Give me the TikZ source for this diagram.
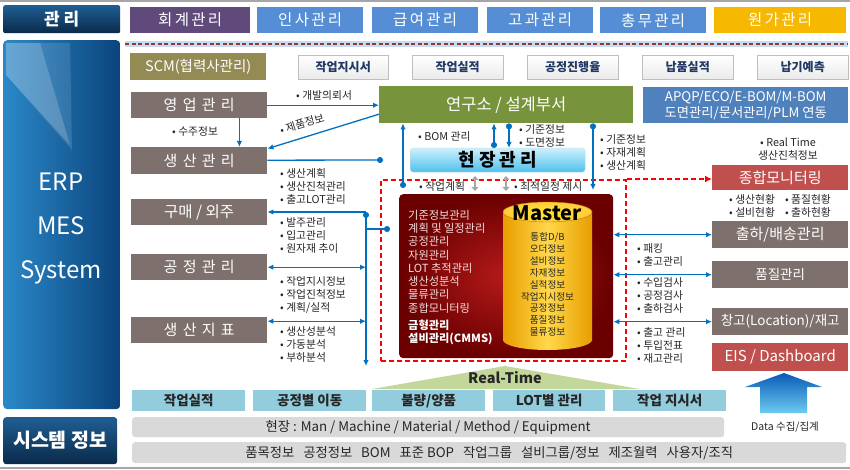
\documentclass[tikz,border=0pt]{standalone}
\usepackage{fontspec}
\setmainfont{Noto Sans CJK KR}
\newfontfamily\krsp[LetterSpace=35]{Noto Sans CJK KR}
\newfontfamily\krsq[LetterSpace=22]{Noto Sans CJK KR}
\newfontfamily\krst[LetterSpace=15]{Noto Sans CJK KR}
\usetikzlibrary{arrows.meta,calc}
\definecolor{navyA}{HTML}{1F5E93}
\definecolor{navyB}{HTML}{0A2A4A}
\definecolor{purp}{HTML}{604A7B}
\definecolor{bluebx}{HTML}{558ED5}
\definecolor{goldbx}{HTML}{F6B800}
\definecolor{olive}{HTML}{948A54}
\definecolor{topbtxt}{HTML}{1F3864}
\definecolor{brn}{HTML}{7E706D}
\definecolor{grn}{HTML}{77933C}
\definecolor{apqp}{HTML}{4F81BD}
\definecolor{redbx}{HTML}{C0504D}
\definecolor{arrb}{HTML}{0070C0}
\definecolor{lblue}{HTML}{93CDDD}
\definecolor{lgrey}{HTML}{D9D9D9}
\definecolor{rtg}{HTML}{C4D79B}
\definecolor{cylA}{HTML}{E89E00}
\definecolor{cylB}{HTML}{FFD84A}
\definecolor{drA}{HTML}{B51A1A}
\definecolor{drB}{HTML}{6A0000}
\definecolor{erpA}{HTML}{2B88C8}
\definecolor{erpB}{HTML}{0B447C}
\definecolor{cyA}{HTML}{CDEFFB}
\definecolor{cyB}{HTML}{4EC0EC}
\definecolor{sepglow}{HTML}{C5DCF2}
\definecolor{sepred}{HTML}{953735}
\definecolor{ltxt}{HTML}{F4DEDD}
\definecolor{upA}{HTML}{0A5BB5}
\definecolor{upB}{HTML}{6CCBF2}
\begin{document}
\begin{tikzpicture}[x=1pt,y=-1pt,
  bx/.style={inner sep=0pt, anchor=north west, text=white, align=center},
  tbx/.style={bx, minimum width=106, minimum height=26, fill=bluebx, font=\krst\fontsize{15.5}{17}\selectfont},
  wbx/.style={bx, minimum width=91, minimum height=24, top color=white, bottom color=black!8, draw=black!25, text=topbtxt, font=\bfseries\fontsize{12}{14}\selectfont},
  brbx/.style={bx, minimum width=136, minimum height=26, fill=brn, font=\krsp\fontsize{15}{17}\selectfont},
  rbx/.style={bx, minimum width=136, minimum height=27, fill=brn, font=\fontsize{15}{17}\selectfont},
  lbbx/.style={bx, minimum width=113, minimum height=21, fill=lblue, text=black!85, font=\bfseries\fontsize{13.5}{15}\selectfont},
  lbl/.style={inner sep=0pt, anchor=west, align=left, text=black!85, font=\fontsize{10.8}{13}\selectfont},
  arr/.style={draw=arrb, line width=1.3pt, -{Latex[length=6pt,width=5.5pt]}},
  darr/.style={draw=arrb, line width=1.3pt, {Latex[length=6pt,width=5.5pt]}-{Latex[length=6pt,width=5.5pt]}},
  dotarr/.style={draw=arrb, line width=1.3pt, {Circle[length=6pt]}-{Latex[length=6pt,width=5.5pt]}},
  dotline/.style={draw=arrb, line width=1.3pt, -{Circle[length=6pt]}},
  garr/.style={draw=black!35, line width=2.2pt, {Triangle[length=4pt,width=7pt]}-{Triangle[length=4pt,width=7pt]}},
  reddash/.style={draw=red, line width=1.8pt, dash pattern=on 5pt off 3pt}
]
\useasboundingbox (0,0) rectangle (850,470);
% frame lines
\coordinate (tl) at (0,1); \coordinate (tr) at (850,1);
\coordinate (bl) at (0,468); \coordinate (br) at (850,468);
\draw[black!35, line width=1.2pt] (tl) -- (tr);
\draw[black!35, line width=1.2pt] (bl) -- (br);

% top row
\node[bx, minimum width=117, minimum height=28, rounded corners=2, top color=navyA, bottom color=navyB, font=\bfseries\fontsize{17}{20}\selectfont] (gwanri) at (3,5) {관 리};
\node[tbx, fill=purp, minimum width=120] (hoegye) at (130,7) {회계관리};
\node[tbx] (insa) at (257,7) {인사관리};
\node[tbx] (geubyeo) at (372,7) {급여관리};
\node[tbx] (gogwa) at (487,7) {고과관리};
\node[tbx] (chongmu) at (600,7) {총무관리};
\node[tbx, fill=goldbx, minimum width=132] (wonga) at (714,7) {원가관리};

% separator
\coordinate (sepL) at (125,44); \coordinate (sepR) at (848,44);
\draw[sepglow, line width=6pt] (sepL) -- (sepR);
\draw[sepred, line width=1.6pt, dash pattern=on 4pt off 2.5pt] (sepL) -- (sepR);

% ERP column
\node[bx, minimum width=117, minimum height=369, rounded corners=4, left color=erpA, right color=erpB] (erp) at (3,40) {};
\fill[white, opacity=0.12] (6,43) -- (70,43) -- (72,150) -- (6,75) -- cycle;
\fill[white, opacity=0.18] (6,43) -- (40,43) -- (70,145) -- (6,75) -- cycle;
\node[text=white, align=center, font=\fontsize{24}{44}\selectfont] (erptxt) at (61,229) {ERP\\MES\\System};

\node[bx, minimum width=114, minimum height=47, rounded corners=3, top color=navyA, bottom color=navyB, font=\bfseries\fontsize{19.5}{22}\selectfont] (sysinfo) at (3,417) {시스템 정보};

% SCM and top white boxes
\node[bx, minimum width=136, minimum height=27, fill=olive, font=\fontsize{14.5}{16}\selectfont] (scm) at (130,53) {SCM(협력사관리)};
\node[wbx, minimum width=90] (w1) at (298,55) {작업지시서};
\node[wbx] (w2) at (412,55) {작업실적};
\node[wbx] (w3) at (527,55) {공정진행율};
\node[wbx] (w4) at (642,55) {납품실적};
\node[wbx] (w5) at (757,55) {납기예측};

% left brown boxes
\node[brbx] (yeong) at (131,92) {영업관리};
\node[brbx, minimum height=27] (saeng) at (131,147) {생산관리};
\node[brbx, font=\fontsize{15.5}{17}\selectfont] (gumae) at (131,199) {구매 / 외주};
\node[brbx] (gongj) at (131,254) {공정관리};
\node[brbx] (jipyo) at (131,317) {생산지표};

% lab and APQP
\node[bx, minimum width=254, minimum height=37, fill=grn, font=\fontsize{16.5}{18}\selectfont] (lab) at (379,86) {연구소 / 설계부서};
\node[bx, minimum width=205, minimum height=36, fill=apqp, font=\fontsize{13.3}{16}\selectfont] (apqp) at (643,87) {APQP/ECO/E-BOM/M-BOM\\도면관리/문서관리/PLM 연동};

% 현장관리
\node[bx, minimum width=175, minimum height=24, rounded corners=3, top color=cyA, bottom color=cyB, draw=cyB!80!black!30, text=black, font=\bfseries\krsq\fontsize{18}{20}\selectfont] (hyeon) at (410,148) {현장관리};

% dashed zone and dark red box
\node[bx, minimum width=245, minimum height=181, reddash] (zone) at (380,179) {};
\node[bx, minimum width=214, minimum height=164, rounded corners=4, inner color=drA, outer color=drB] (dred) at (399,194) {};
\node[lbl, text=ltxt, font=\fontsize{11.2}{13.3}\selectfont] (dlist) at (408,261.5) {기준정보관리\\계획 및 일정관리\\공정관리\\자원관리\\LOT 추적관리\\생산성분석\\물류관리\\종합모니터링};
\node[lbl, text=white, font=\bfseries\fontsize{11.2}{13}\selectfont] (dlist2) at (408,332.5) {금형관리\\설비관리(CMMS)};

% cylinder
\shade[left color=cylA, right color=cylA, middle color=cylB] (503,212) rectangle (592,340);
\shade[left color=cylA, right color=cylA, middle color=cylB] (547.5,340) ellipse [x radius=44.5, y radius=10];
\shade[inner color=cylB!60!yellow, outer color=cylB!85!orange, draw=cylA!80!black] (547.5,212) ellipse [x radius=44.5, y radius=10];
\node[inner sep=0pt, font=\bfseries\fontsize{20}{22}\selectfont, text=black] (master) at (547.5,213) {Master};
\node[inner sep=0pt, align=center, text=black!85, font=\fontsize{9.6}{11.9}\selectfont] (mlist) at (547.5,284.5) {통합D/B\\오더정보\\설비정보\\자재정보\\실적정보\\작업지시정보\\공정정보\\품질정보\\물류정보};

% right column
\node[rbx, fill=redbx, minimum height=25] (mon) at (712,165) {종합모니터링};
\node[rbx] (chulha) at (712,221) {출하/배송관리};
\node[rbx, font=\fontsize{13.5}{15}\selectfont] (pumjil) at (712,261) {품질관리};
\node[rbx, font=\fontsize{13.5}{15}\selectfont] (changgo) at (712,308) {창고(Location)/재고};
\node[rbx, fill=redbx, minimum height=28] (eis) at (712,343) {EIS / Dashboard};

% big up arrow
\shade[top color=upA, bottom color=upB] (760,413) -- (807,413) -- (807,387) -- (822,387) -- (784,373) -- (745,387) -- (760,387) -- cycle;
\node[inner sep=0pt, font=\fontsize{10.5}{12}\selectfont, text=black!85] (datatxt) at (785,427) {Data 수집/집계};

% bottom
\fill[rtg] (372,389) -- (505,366) -- (640,389) -- cycle;
\node[inner sep=0pt, font=\bfseries\fontsize{14.5}{16}\selectfont, text=black!85] (rt) at (505,378) {Real-Time};
\node[lbbx] (b1) at (132,390) {작업실적};
\node[lbbx] (b2) at (253,390) {공정별 이동};
\node[lbbx] (b3) at (372,390) {불량/양품};
\node[lbbx, minimum width=112] (b4) at (493,390) {LOT별 관리};
\node[lbbx] (b5) at (613,390) {작업 지시서};
\node[bx, minimum width=592, minimum height=20, rounded corners=3, fill=lgrey, text=black!85, font=\fontsize{13.3}{15}\selectfont] (g1) at (132,417) {현장 :  Man / Machine / Material / Method / Equipment};
\node[bx, minimum width=714, minimum height=21, rounded corners=3, fill=lgrey, text=black!85, font=\fontsize{13.3}{15}\selectfont] (g2) at (132,442) {품목정보\hspace{9pt}공정정보\hspace{9pt}BOM\hspace{9pt}표준 BOP\hspace{9pt}작업그룹\hspace{9pt}설비그룹/정보\hspace{9pt}제조월력\hspace{9pt}사용자/조직};

% labels
\node[lbl] (l1) at (296,95) {• 개발의뢰서};
\node[lbl] (l2) at (172,131) {• 수주정보};
\node[lbl, anchor=center, rotate=17] (l3) at (302,124) {• 제품정보};
\node[lbl] (l4) at (280,186) {• 생산계획\\• 생산진척관리\\• 출고LOT관리};
\node[lbl] (l5) at (280,235) {• 발주관리\\• 입고관리\\• 원자재 추이};
\node[lbl] (l6) at (280,294.5) {• 작업지시정보\\• 작업진척정보\\• 계획/실적};
\node[lbl] (l7) at (280,344.5) {• 생산성분석\\• 가동분석\\• 부하분석};
\node[lbl] (l8) at (418,136) {• BOM 관리};
\node[lbl] (l9) at (519,136) {• 기준정보\\• 도면정보};
\node[lbl] (l10) at (600,152) {• 기준정보\\• 자재계획\\• 생산계획};
\node[lbl] (l11) at (419,186) {• 작업계획};
\node[lbl] (l12) at (514,186) {• 최적일정 제시};
\node[lbl, align=center, anchor=center] (l13) at (788,149) {• Real Time\\생산진척정보};
\node[lbl] (l14) at (729,205.5) {• 생산현황\hspace{10pt}• 품질현황\\• 설비현황\hspace{10pt}• 출하현황};
\node[lbl] (l15) at (637,254.5) {• 패킹\\• 출고관리};
\node[lbl] (l16) at (637,295.5) {• 수입검사\\• 공정검사\\• 출하검사};
\node[lbl] (l17) at (637,345) {• 출고 관리\\• 투입전표\\• 재고관리};

% coordinates
\coordinate (c383) at (383,160);
\coordinate (c403) at (403,188);
\coordinate (x494) at (494,0);
\coordinate (x509) at (509,0);
\coordinate (x593) at (593,0);
\coordinate (e593) at (593,190);
\coordinate (g1a) at (475,176); \coordinate (g1b) at (475,191);
\coordinate (g2a) at (506,176); \coordinate (g2b) at (506,191);
\coordinate (bT) at (366,212);
\coordinate (bB) at (366,366);
\coordinate (bM) at (366,229);
\coordinate (dM) at (390,229);

% connectors
\draw[arr] (yeong.east) -- (yeong.east -| lab.west);
\draw[arr] ([xshift=-28pt]yeong.south east) -- ([xshift=-28pt]saeng.north east);
\draw[arr] ([yshift=-9.5pt]lab.west) -- ([yshift=12pt]saeng.east);
\draw[dotline] ([yshift=0.5pt]saeng.east) -- (c383);
\draw[dotarr] (c403) -- (c403 |- lab.south);
\draw[dotarr] (x494 |- hyeon.north) -- (x494 |- lab.south);
\draw[dotarr] (x509 |- lab.south) -- (x509 |- hyeon.north);
\draw[dotarr] (x593 |- lab.south) -- (e593);
\draw[garr] (g1a) -- (g1b);
\draw[garr] (g2a) -- (g2b);
\draw[reddash, -{Latex[length=7pt,width=7pt]}] (zone.north east) -- (zone.north east -| mon.west);
\draw[dotarr] (bT) -- (bB);
\draw[arr] (bT) -- (bT -| gumae.east);
\draw[darr] (gongj.east) -- (gongj.east -| bT);
\draw[darr] ([yshift=9pt]jipyo.east) -- ([yshift=9pt]jipyo.east -| bT);
\draw[dotline] (bM) -- (dM);
\draw[darr] (chulha.west) -- (chulha.west -| dred.east);
\draw[darr] (pumjil.west) -- (pumjil.west -| dred.east);
\draw[darr] (changgo.west) -- (changgo.west -| dred.east);
\end{tikzpicture}
\end{document}
